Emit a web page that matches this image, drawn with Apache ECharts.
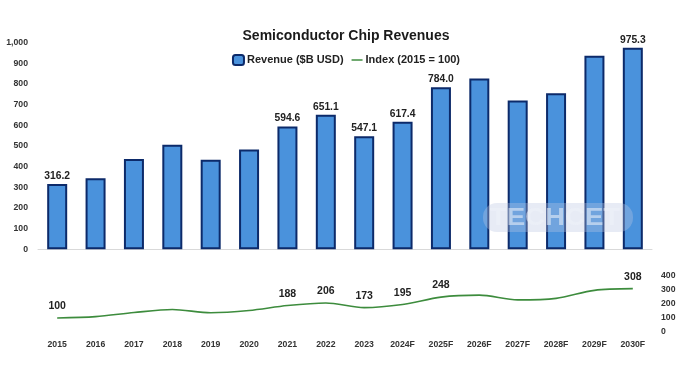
<!DOCTYPE html>
<html>
<head>
<meta charset="utf-8">
<script src="https://cdn.jsdelivr.net/npm/echarts@6/dist/echarts.min.js"></script>
<style>
html,body{margin:0;padding:0;background:#fff;}
#c{width:692px;height:378px;}
</style>
</head>
<body>
<div id="c"></div>
<script>
const categories = ['2015','2016','2017','2018','2019','2020','2021','2022','2023','2024F','2025F','2026F','2027F','2028F','2029F','2030F'];
const revenue = [316.2, 344, 437, 506, 434, 483, 594.6, 651.1, 547.1, 617.4, 784.0, 827, 720, 755, 937, 975.3];
const indexValues = [100, 109, 138, 160, 137, 153, 188, 206, 173, 195, 248, 262, 228, 239, 296, 308];
const labeledRevenue = [0, 6, 7, 8, 9, 10, 15];
const labeledIndex = [0, 6, 7, 8, 9, 10, 15];
const leftTicks = {min: 0, max: 1000, interval: 100};
const rightTicks = {min: 0, max: 400, interval: 100};

const FONT = '"Liberation Sans", Arial, sans-serif';
const chart = echarts.init(document.getElementById('c'), null, {renderer: 'canvas'});

const barData = revenue.map((v, i) => ({
  value: v,
  label: {show: labeledRevenue.includes(i)}
}));
const lineData = indexValues.map((v, i) => ({
  value: v,
  label: {show: labeledIndex.includes(i)}
}));

chart.setOption({
  animation: false,
  textStyle: {fontFamily: FONT},
  title: {
    text: 'Semiconductor Chip Revenues',
    left: 'center',
    top: 24,
    textStyle: {fontFamily: FONT, fontSize: 14, fontWeight: 'bold', color: '#1a1a1a'}
  },
  legend: {
    top: 49,
    left: 'center',
    itemWidth: 11,
    itemHeight: 10,
    itemGap: 8,
    textStyle: {fontFamily: FONT, fontSize: 11, fontWeight: 'bold', color: '#222', padding: [0,0,0,-2]},
    data: [
      {name: 'Revenue ($B USD)', icon: 'roundRect'},
      {name: 'Index (2015 = 100)', icon: 'path://M0,0 L12,0 L12,1.6 L0,1.6 Z', itemStyle: {color: '#3d8c3d', borderWidth: 0}}
    ]
  },
  grid: [
    {left: 38, right: 40, top: 42.7, height: 206.6},
    {left: 38, right: 40, top: 275.7, height: 56.3}
  ],
  xAxis: [
    {
      type: 'category', gridIndex: 0, data: categories,
      axisLine: {show: true, lineStyle: {color: '#d9d9d9', width: 1}},
      axisTick: {show: false}, axisLabel: {show: false}
    },
    {
      type: 'category', gridIndex: 1, data: categories,
      axisLine: {show: false}, axisTick: {show: false},
      axisLabel: {fontFamily: FONT, fontSize: 8.7, fontWeight: 'bold', color: '#333', margin: 8}
    }
  ],
  yAxis: [
    {
      type: 'value', gridIndex: 0, min: leftTicks.min, max: leftTicks.max, interval: leftTicks.interval,
      splitLine: {show: false}, axisLine: {show: false}, axisTick: {show: false},
      axisLabel: {
        fontFamily: FONT, fontSize: 8.7, fontWeight: 'bold', color: '#333', margin: 10,
        formatter: v => v.toLocaleString('en-US')
      }
    },
    {
      type: 'value', gridIndex: 1, position: 'right', min: rightTicks.min, max: rightTicks.max, interval: rightTicks.interval,
      splitLine: {show: false}, axisLine: {show: false}, axisTick: {show: false},
      axisLabel: {fontFamily: FONT, fontSize: 8.7, fontWeight: 'bold', color: '#333', margin: 9}
    }
  ],
  series: [
    {
      name: 'Revenue ($B USD)',
      type: 'bar', xAxisIndex: 0, yAxisIndex: 0,
      data: barData,
      barWidth: 20,
      itemStyle: {color: '#4a92dc', borderColor: '#0c2a6a', borderWidth: 2},
      label: {position: 'top', distance: 3, fontFamily: FONT, fontSize: 10.3, fontWeight: 'bold', color: '#222',
        formatter: p => p.value.toFixed(1)}
    },
    {
      name: 'Index (2015 = 100)',
      type: 'line', xAxisIndex: 1, yAxisIndex: 1,
      data: lineData,
      smooth: 0.3,
      symbol: 'circle',
      symbolSize: 0.1,
      showAllSymbol: true,
      lineStyle: {color: '#3d8c3d', width: 1.6},
      itemStyle: {color: '#3d8c3d'},
      label: {position: 'top', distance: 6, fontFamily: FONT, fontSize: 10.5, fontWeight: 'bold', color: '#222'}
    }
  ],
  graphic: [
    {
      type: 'rect', z: 100,
      shape: {x: 483, y: 203, width: 150, height: 29, r: 14},
      style: {fill: 'rgba(185,198,225,0.35)'}
    },
    {
      type: 'text', z: 101,
      x: 555, y: 218, scaleX: 1.15,
      style: {text: 'TECHCET', fill: 'rgba(238,242,250,0.55)', font: 'bold 24px ' + FONT,
        align: 'center', verticalAlign: 'middle'}
    }
  ]
});
</script>
</body>
</html>
